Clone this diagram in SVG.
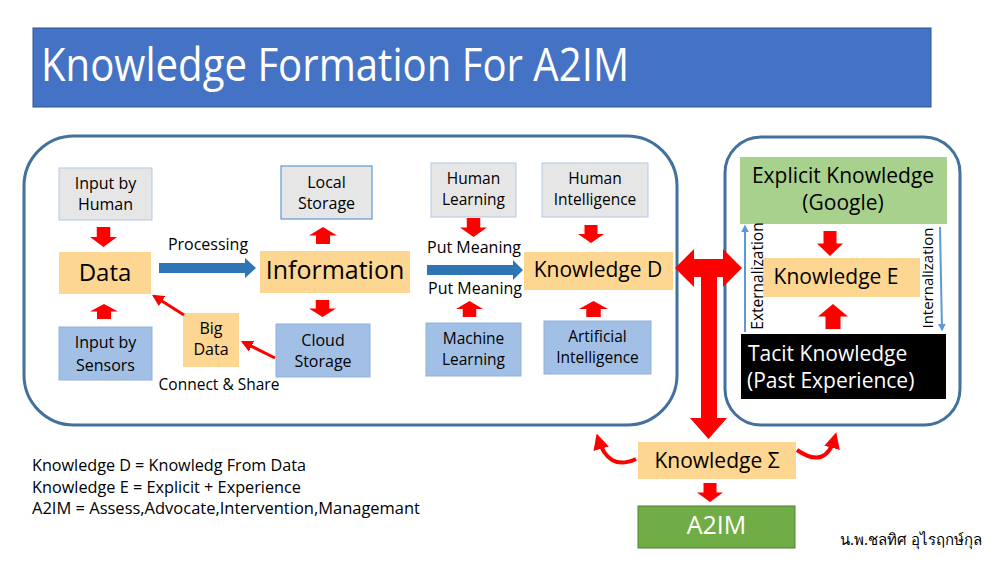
<svg xmlns="http://www.w3.org/2000/svg" xmlns:xlink="http://www.w3.org/1999/xlink" width="999" height="562" viewBox="0 0 999 562">
<style>
text{font-family:"Open Sans","Noto Sans","Liberation Sans",sans-serif;fill:#000}
.t16{font-size:16px}
.t15{font-size:15.5px}
.t21{font-size:21px}
.c{text-anchor:middle}
.grey{fill:#E7E6E6;stroke:#B4C7E7;stroke-width:1}
.blue{fill:#A2C0E6;stroke:#8FB0DA;stroke-width:1}
.orange{fill:#FDD691;stroke:none}
.red{fill:#FF0000}
.frame{fill:none;stroke:#41719C;stroke-width:3}
</style>
<defs>
<path id="ad" d="M0.25,0 H0.75 V0.5 H1 L0.5,1 L0,0.5 H0.25 Z"/>
<path id="au" d="M0.5,0 L1,0.5 H0.75 V1 H0.25 V0.5 H0 Z"/>
<marker id="mr" viewBox="0 0 10 10" refX="8" refY="5" markerWidth="4" markerHeight="4" orient="auto" markerUnits="strokeWidth">
<path d="M0,0 L10,5 L0,10 Z" fill="#FF0000"/>
</marker>
<marker id="mr2" viewBox="0 0 10 10" refX="7" refY="5" markerWidth="4" markerHeight="4.5" orient="auto" markerUnits="strokeWidth">
<path d="M0,0 L10,5 L0,10 Z" fill="#FF0000"/>
</marker>
<marker id="mb" viewBox="0 0 10 10" refX="8" refY="5" markerWidth="4" markerHeight="4" orient="auto" markerUnits="strokeWidth">
<path d="M0,0 L10,5 L0,10 Z" fill="#5B9BD5"/>
</marker>
</defs>
<rect width="999" height="562" fill="#FFFFFF"/>

<g id="title">
<rect x="33" y="28" width="898" height="79" fill="#4472C4" stroke="#2F528F" stroke-width="1"/>
<text x="41" y="81" style="font-size:46px;fill:#FFFFFF" textLength="588" lengthAdjust="spacingAndGlyphs">Knowledge Formation For A2IM</text>
</g>

<g id="frames">
<rect x="24" y="136" width="653" height="289" rx="50" class="frame"/>
<rect x="725" y="137" width="235" height="288" rx="36" class="frame"/>
</g>

<g id="input-human"><rect x="59" y="168" width="93" height="52" class="grey"/><text x="105.5" y="189" class="t16 c">Input by</text><text x="105.5" y="210" class="t16 c">Human</text></g>
<g id="data"><rect x="59" y="252" width="92" height="42" class="orange"/><text x="105" y="281" class="c" style="font-size:24px">Data</text></g>
<g id="input-sensors"><rect x="59" y="327" width="93" height="53" class="blue"/><text x="105.5" y="348" class="t16 c">Input by</text><text x="105.5" y="371" class="t16 c">Sensors</text></g>
<g id="information"><rect x="260" y="251" width="150" height="42" class="orange"/><text x="335" y="279" class="c" style="font-size:25px">Information</text></g>
<g id="local-storage"><rect x="281" y="166" width="91" height="53" fill="#E7E6E6" stroke="#5B9BD5" stroke-width="1.2"/><text x="326.5" y="188" class="t16 c">Local</text><text x="326.5" y="209" class="t16 c">Storage</text></g>
<g id="cloud-storage"><rect x="276" y="324" width="94" height="53" class="blue"/><text x="323" y="346" class="t16 c">Cloud</text><text x="323" y="367" class="t16 c">Storage</text></g>
<g id="big-data"><rect x="183" y="313" width="56" height="54" class="orange"/><text x="211" y="334" class="t16 c">Big</text><text x="211" y="355" class="t16 c">Data</text></g>
<g id="human-learning"><rect x="431" y="163" width="85" height="54" class="grey"/><text x="473.5" y="184" class="t15 c">Human</text><text x="473.5" y="205" class="t15 c">Learning</text></g>
<g id="human-intelligence"><rect x="542" y="163" width="106" height="54" class="grey"/><text x="595" y="184" class="t15 c">Human</text><text x="595" y="205" class="t15 c">Intelligence</text></g>
<g id="machine-learning"><rect x="426" y="323" width="95" height="53" class="blue"/><text x="473.5" y="344" class="t15 c">Machine</text><text x="473.5" y="365" class="t15 c">Learning</text></g>
<g id="artificial-intelligence"><rect x="544" y="321" width="107" height="53" class="blue"/><text x="597.5" y="342" class="t15 c">Artificial</text><text x="597.5" y="363" class="t15 c">Intelligence</text></g>
<g id="knowledge-d"><rect x="524" y="252" width="149" height="38" class="orange"/><text x="598" y="277" class="t21 c">Knowledge D</text></g>

<g id="explicit"><rect x="740" y="157" width="207" height="67" fill="#A9D18E"/><text x="843" y="183" class="t21 c">Explicit Knowledge</text><text x="843" y="210" class="t21 c">(Google)</text></g>
<g id="knowledge-e"><rect x="763" y="258" width="157" height="39" class="orange"/><text x="836" y="284" class="t21 c">Knowledge E</text></g>
<g id="tacit"><rect x="741" y="334" width="205" height="65" fill="#000000"/><text x="748" y="361" class="t21" style="fill:#FFFFFF">Tacit Knowledge</text><text x="747" y="388" class="t21" style="fill:#FFFFFF">(Past Experience)</text></g>

<g id="knowledge-sigma"><rect x="638" y="442" width="158" height="37" class="orange"/><text x="717" y="468" class="t21 c">Knowledge Σ</text></g>
<g id="a2im"><rect x="638" y="506" width="157" height="42" fill="#70AD47" stroke="#507E32" stroke-width="1"/><text x="716.5" y="534" class="c" style="font-size:25px;fill:#FFFFFF">A2IM</text></g>

<g id="labels">
<text x="208" y="250" class="t16 c">Processing</text>
<text x="474" y="253" class="t16 c">Put Meaning</text>
<text x="475" y="294" class="t16 c">Put Meaning</text>
<text x="219" y="390" class="c" style="font-size:15.5px">Connect &amp; Share</text>
<text transform="translate(763,276) rotate(-90)" class="c" style="font-size:15.5px">Externalization</text>
<text transform="translate(933,278) rotate(-90)" class="c" style="font-size:15px">Internalization</text>
</g>

<g id="legend">
<text x="32" y="471" class="t16" textLength="274" lengthAdjust="spacingAndGlyphs">Knowledge D = Knowledg From Data</text>
<text x="32" y="493" class="t16" textLength="269" lengthAdjust="spacingAndGlyphs">Knowledge E = Explicit + Experience</text>
<text x="32" y="514" class="t16" textLength="388" lengthAdjust="spacingAndGlyphs">A2IM = Assess,Advocate,Intervention,Managemant</text>
<text x="982" y="545" style="font-size:15px;text-anchor:end;font-family:'Noto Sans','DejaVu Sans',sans-serif">น.พ.ชลทิศ อุไรฤกษ์กุล</text>
</g>

<g id="connectors">
<use href="#ad" class="red" transform="translate(90,227) scale(27,20)"/>
<use href="#au" class="red" transform="translate(90,304) scale(28,15)"/>
<use href="#au" class="red" transform="translate(309,227) scale(28,17)"/>
<use href="#ad" class="red" transform="translate(309,300) scale(27,17)"/>
<use href="#ad" class="red" transform="translate(460,218) scale(27,19)"/>
<use href="#au" class="red" transform="translate(456,301) scale(27,16)"/>
<use href="#ad" class="red" transform="translate(578,225) scale(26,18)"/>
<use href="#au" class="red" transform="translate(579,301) scale(29,16)"/>
<use href="#ad" class="red" transform="translate(817,231) scale(26,25)"/>
<use href="#au" class="red" transform="translate(818,304) scale(30,25)"/>
<use href="#ad" class="red" transform="translate(697,483) scale(26,19)"/>

<path d="M159,263 H245 V258 L256,268 L245,278 V273 H159 Z" fill="#2E75B6"/>
<path d="M427,265 H513 V260 L523,270 L513,280 V275 H427 Z" fill="#2E75B6"/>

<line x1="184" y1="315" x2="154" y2="296" stroke="#FF0000" stroke-width="3" marker-end="url(#mr)"/>
<line x1="275" y1="358" x2="243" y2="342" stroke="#FF0000" stroke-width="3" marker-end="url(#mr)"/>

<line x1="745" y1="332" x2="745" y2="226" stroke="#5B9BD5" stroke-width="2" marker-end="url(#mb)"/>
<line x1="940" y1="227" x2="942" y2="330" stroke="#5B9BD5" stroke-width="2" marker-end="url(#mb)"/>

<path d="M675,268 L694,249 V259 H701 V259 H723 V249 L742,268 L723,287 V277 H717 V418 H727 L708.5,439 L690,418 H701 V277 H694 V287 Z" fill="#FF0000"/>

<path d="M636,459 Q608,472 598,438" fill="none" stroke="#FF0000" stroke-width="4" marker-end="url(#mr2)"/>
<path d="M797,450 Q826,470 835,437" fill="none" stroke="#FF0000" stroke-width="4" marker-end="url(#mr2)"/>
</g>
</svg>
